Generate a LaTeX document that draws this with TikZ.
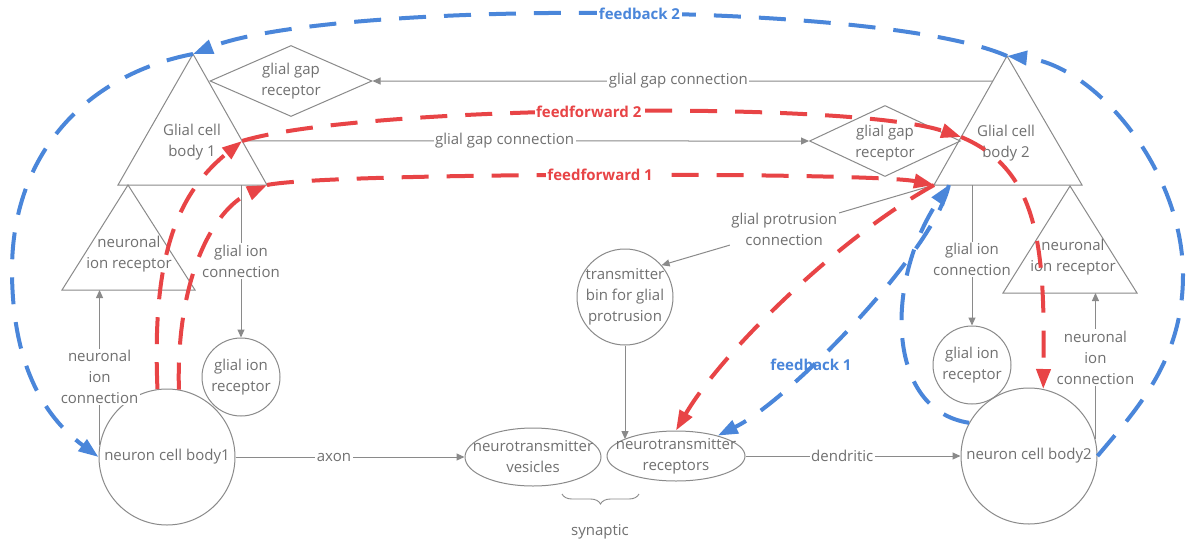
\documentclass[tikz,border=0pt]{standalone}
\usepackage{fontspec}
\setmainfont{Open Sans}
\usetikzlibrary{arrows.meta,shapes.geometric,calc,decorations.pathreplacing}
\definecolor{linegray}{RGB}{138,138,138}
\definecolor{textgray}{RGB}{112,112,112}
\definecolor{ffred}{RGB}{232,68,70}
\definecolor{fbblue}{RGB}{74,134,218}

\begin{document}
\begin{tikzpicture}[x=1pt,y=-1pt,
  every node/.style={font=\fontsize{15}{21}\selectfont, text=textgray, align=center, inner sep=1pt},
  shapeline/.style={draw=linegray, line width=1pt},
  conn/.style={draw=linegray, line width=1pt, -{Triangle[length=8pt,width=7pt]}},
  lbl/.style={fill=white, inner sep=1.5pt},
  cellcircle/.style={circle, shapeline, inner sep=0pt, minimum size=#1},
  ffpath/.style={draw=ffred, line width=4pt, dash pattern=on 27pt off 18pt, -{Triangle[length=20pt,width=14pt]}},
  fbpath/.style={draw=fbblue, line width=4pt, dash pattern=on 27pt off 18pt, -{Triangle[length=20pt,width=14pt]}},
  fflabel/.style={text=ffred, font=\fontsize{15}{21}\selectfont\bfseries, fill=white, inner sep=1.5pt},
  fblabel/.style={text=fbblue, font=\fontsize{15}{21}\selectfont\bfseries, inner sep=1.5pt},
]
\fill[white] (0,0) rectangle (1187,544);
\useasboundingbox (0,0) rectangle (1187,544);

% ---- glial cell bodies (triangles) ----
\coordinate (gc1a) at (193,54);
\coordinate (gc1l) at (118,185);
\coordinate (gc1r) at (267,185);
\draw[shapeline] (gc1a) -- (gc1l) -- (gc1r) -- cycle;
\node (gc1) at (192,142) {Glial cell\\body 1};

\coordinate (gc2a) at (1007,56);
\coordinate (gc2l) at (934,185);
\coordinate (gc2r) at (1082,185);
\draw[shapeline] (gc2a) -- (gc2l) -- (gc2r) -- cycle;
\node (gc2) at (1006,143) {Glial cell\\body 2};

% ---- neuronal ion receptors (triangles) ----
\coordinate (nir1a) at (128,185);
\coordinate (nir1l) at (62,290);
\coordinate (nir1r) at (195,290);
\draw[shapeline] (nir1a) -- (nir1l) -- (nir1r) -- cycle;
\node (nir1) at (129,254) {neuronal\\ion receptor};

\coordinate (nir2a) at (1070,186);
\coordinate (nir2l) at (1003,293);
\coordinate (nir2r) at (1137,293);
\draw[shapeline] (nir2a) -- (nir2l) -- (nir2r) -- cycle;
\node (nir2) at (1073,257) {neuronal\\ion receptor};

% ---- glial gap receptors (diamonds) ----
\node[diamond, shapeline, inner sep=0pt, minimum width=162pt, minimum height=71pt] (gr1) at (291,81) {};
\node (gr1t) at (gr1) {glial gap\\receptor};
\node[diamond, shapeline, inner sep=0pt, minimum width=151pt, minimum height=71pt] (gr2) at (885,141) {};
\node (gr2t) at (885,143) {glial gap\\receptor};

% ---- round cells ----
\node[cellcircle=136pt] (cb1) at (167,457) {};
\node (cb1t) at (cb1) {neuron cell body1};
\node[cellcircle=78pt] (gir1) at (241,377) {};
\node (gir1t) at (gir1) {glial ion\\receptor};
\node[cellcircle=96pt] (tb) at (625,297) {};
\node (tbt) at (tb) {transmitter\\bin for glial\\protrusion};
\node[cellcircle=136pt] (cb2) at (1029,456) {};
\node (cb2t) at (cb2) {neuron cell body2};
\node[cellcircle=78pt] (gir2) at (972,365) {};
\node (gir2t) at (gir2) {glial ion\\receptor};

% ---- synapse ellipses ----
\node[ellipse, shapeline, inner sep=0pt, minimum width=136pt, minimum height=58pt] (ves) at (533,457) {};
\node (vest) at (ves) {neurotransmitter\\vesicles};
\node[ellipse, shapeline, inner sep=0pt, minimum width=138pt, minimum height=50pt] (rec) at (676,456) {};
\node (rect) at (rec) {neurotransmitter\\receptors};

% ---- points on the triangle edges ----
\coordinate (gc1e) at ($(gc1a)!0.664!(gc1r)$);
\coordinate (gc2e) at ($(gc2a)!0.628!(gc2l)$);
\coordinate (gc2g) at ($(gc2a)!0.194!(gc2l)$);
\coordinate (gc2f) at ($(gc2l)!0.1!(gc2r)$);

% ---- gray connections ----
\draw[conn] (gc2g) -- node[lbl,pos=0.507]{glial gap connection} (gr1.east);
\draw[conn] (gc1e) -- node[lbl,pos=0.463]{glial gap connection} (gr2.west);
\draw[conn] (gc2l) -- node[lbl,pos=0.55]{glial protrusion\\connection} (tb.41);
\draw[conn] (tb.south) -- (tb.south |- rec.162);
\draw[conn] (cb1.east) -- node[lbl,pos=0.43]{axon} (ves.west);
\draw[conn] (rec.east) -- node[lbl,pos=0.45]{dendritic} (cb2.west);
\draw[conn] (gir1.north |- gc1l) -- node[lbl,pos=0.5]{glial ion\\connection} (gir1.north);
\draw[conn] (gir2.north |- gc2l) -- node[lbl,pos=0.53]{glial ion\\connection} (gir2.north);
\draw[conn] (cb1.170) -- node[lbl,pos=0.44]{neuronal\\ion\\connection} (cb1.170 |- nir1l);
\draw[conn] (cb2.14) -- node[lbl,pos=0.56]{neuronal\\ion\\connection} (cb2.14 |- nir2l);

% ---- synaptic brace ----
\coordinate (sL) at (562,494);
\coordinate (sR) at (639,494);
\draw[linegray, line width=0.9pt, decorate, decoration={brace, amplitude=10pt, mirror}] (sL) -- (sR);
\node (syn) at (600,532) {synaptic};

% ---- feedforward paths ----
\draw[ffpath] (cb1.98) .. controls (152,260) and (175,195) .. (gc1e);
\draw[ffpath] (gc1e) .. controls (360,105) and (850,100) .. node[fflabel,pos=0.483]{feedforward 2} (gc2e);
\draw[ffpath] (gc2e) .. controls (1040,170) and (1045,250) .. (cb2.78);

\draw[ffpath] (cb1.80) .. controls (176,280) and (212,210) .. (gc1r);
\draw[ffpath] (gc1r) .. controls (330,172) and (870,172) .. node[fflabel,pos=0.5]{feedforward 1} (gc2l);
\draw[ffpath] (gc2l) .. controls (835,240) and (720,355) .. (rec.north);

% ---- feedback paths ----
\coordinate (fbR) at (1183,275);
\coordinate (fbL) at (12,270);
\draw[fbpath] (cb2.east) .. controls (1137,409) and (1183,360) .. (fbR) .. controls (1183,170) and (1095,65) .. (gc2a);
\draw[fbpath] (gc2a) .. controls (880,0) and (330,0) .. node[fblabel,fill=white,pos=0.465]{feedback 2} (gc1a);
\draw[fbpath] (gc1a) .. controls (85,75) and (12,155) .. (fbL) .. controls (12,350) and (35,410) .. (cb1.west);

\draw[fbpath] (cb2.151) .. controls (885,410) and (885,280) .. (gc2f);
\draw[fbpath] (gc2f) .. controls (935,250) and (790,400) .. (rec.26);
\node[fblabel] (fb1) at (811,365) {feedback 1};

\end{tikzpicture}
\end{document}
